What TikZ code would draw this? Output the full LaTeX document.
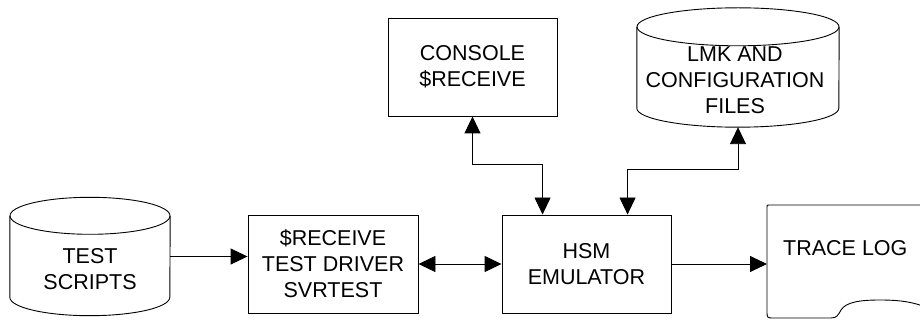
\documentclass[tikz,border=0pt]{standalone}
\usepackage{fontspec}
\setmainfont{Liberation Sans}
\usetikzlibrary{arrows.meta,calc}

\tikzset{
  txt/.style={inner sep=0pt, align=center, font=\fontsize{21.5}{26}\selectfont},
  box/.style={draw, line width=0.9pt, inner sep=0pt, align=center,
              minimum width=169pt, minimum height=98pt,
              font=\fontsize{21.5}{26}\selectfont},
  body/.style={inner sep=0pt, draw=none},
  outline/.style={line width=0.9pt},
  tip/.tip={Triangle[length=17pt,width=16pt]},
  flow/.style={line width=0.9pt, -tip},
  both/.style={line width=0.9pt, tip-tip},
}

\begin{document}
\begin{tikzpicture}[x=1pt,y=-1pt]
\useasboundingbox (0,0) rectangle (920,320);
\clip (0,0) rectangle (920,320);
\fill[white] (0,0) rectangle (920,320);

% test script store (cylinder)
\node[body, minimum width=160pt, minimum height=81pt] (ts) at (90,256.5) {};
\draw[outline] (ts.north) ellipse [x radius=80pt, y radius=18.5pt];
\draw[outline] (ts.north west) -- (ts.south west)
  arc [start angle=180, end angle=360, x radius=80pt, y radius=18.5pt]
  -- (ts.north east);
\node[txt] (tsLabel) at (90,269) {TEST\\SCRIPTS};

% LMK and configuration files (cylinder)
\node[body, minimum width=202pt, minimum height=81pt] (lmk) at (738,67.5) {};
\draw[outline] (lmk.north) ellipse [x radius=101pt, y radius=19pt];
\draw[outline] (lmk.north west) -- (lmk.south west)
  arc [start angle=180, end angle=360, x radius=101pt, y radius=19pt]
  -- (lmk.north east);
\coordinate (lmkBottom) at ($(lmk.south)+(0,19)$);
\node[txt] (lmkLabel) at (735,80.5) {LMK AND\\CONFIGURATION\\FILES};

% boxes
\node[box, minimum width=170pt] (drv) at (333,264) {\$RECEIVE\\TEST DRIVER\\SVRTEST};
\node[box] (hsm) at (586.5,264) {HSM\\EMULATOR};
\node[box] (con) at (472.5,67) {CONSOLE\\\$RECEIVE};

% trace log (document shape, running past the right edge)
\node[body, anchor=north west, minimum width=300pt, minimum height=113pt] (tl) at (767,205) {};
\begin{scope}[shift={(tl.north west)}]
\draw[outline] (220,0) -- (2,0) .. controls (0,0) .. (0,2) -- (0,106)
  .. controls (0,113) .. (7,113) -- (64,113)
  .. controls (70,113) and (71,110) .. (74,105)
  .. controls (79,97) and (93,95) .. (113,95)
  .. controls (133,95) and (148,97) .. (163,104);
\end{scope}
\node[txt, anchor=west] (tlLabel) at (783,248) {TRACE LOG};

% connectors
\draw[flow] (ts.east) -- (ts.east -| drv.west);
\draw[both] (drv.east) -- (hsm.west);
\draw[flow] (hsm.east) -- (hsm.east -| tl.west);
\draw[both] (con.south) |- ($(hsm.north west)+(41,-50)$) -- ($(hsm.north west)+(41,0)$);
\draw[both] (lmkBottom) |- ($(hsm.north west)+(126,-45)$) -- ($(hsm.north west)+(126,0)$);
\end{tikzpicture}
\end{document}
